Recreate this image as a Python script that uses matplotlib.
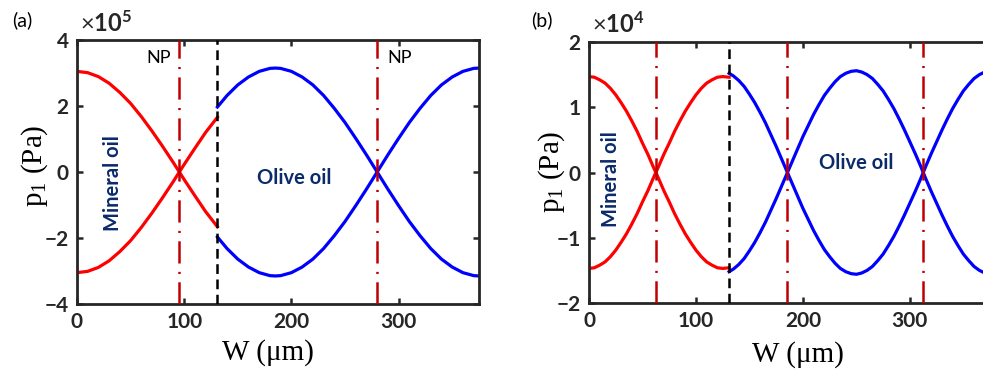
import matplotlib
matplotlib.use('Agg')
import matplotlib.pyplot as plt

plt.rcParams['font.family'] = ['Lato', 'DejaVu Sans']
plt.rcParams['mathtext.fontset'] = 'custom'
plt.rcParams['mathtext.rm'] = 'Lato'
plt.rcParams['mathtext.bf'] = 'Lato:bold'
plt.rcParams['lines.scale_dashes'] = False

# panel (a): values in units of 1e5 Pa
wa_red = [0, 10, 20, 30, 40, 50, 60, 70, 80, 90, 100, 110, 120, 131]
pa_red = [3.05, 3.01, 2.89, 2.69, 2.41, 2.08, 1.68, 1.24, 0.77, 0.28, -0.23, -0.72, -1.20, -1.66]
wa_blue = [131, 140, 150, 160, 170, 180, 185, 190, 200, 210, 220, 230, 240, 250, 260, 270, 280,
           290, 300, 310, 320, 330, 340, 350, 360, 370, 375]
pa_blue = [1.97, 2.32, 2.64, 2.88, 3.05, 3.14, 3.15, 3.14, 3.05, 2.88, 2.64, 2.32, 1.93, 1.50, 1.02, 0.52, 0.00,
           -0.52, -1.02, -1.50, -1.93, -2.32, -2.64, -2.88, -3.05, -3.14, -3.15]
a_np = [95.5, 280]
a_iface = 131

# panel (b): values in units of 1e4 Pa
wb_red = [0, 5, 10, 15, 20, 25, 30, 35, 40, 45, 50, 55, 60, 65, 70, 75, 80, 85, 90, 95,
          100, 105, 110, 115, 120, 125, 131]
pb_red = [1.47, 1.46, 1.42, 1.37, 1.29, 1.19, 1.07, 0.94, 0.79, 0.63, 0.45, 0.28, 0.09, -0.09, -0.28, -0.45,
          -0.63, -0.79, -0.94, -1.07, -1.19, -1.29, -1.37, -1.42, -1.46, -1.47, -1.46]
wb_blue = [131, 135, 140, 145, 150, 155, 160, 165, 170, 175, 180, 185, 190, 195, 200, 205, 210, 215, 220,
           225, 230, 235, 240, 245, 250, 255, 260, 265, 270, 275, 280, 285, 290, 295, 300, 305, 310,
           315, 320, 325, 330, 335, 340, 345, 350, 355, 360, 365, 370, 375]
pb_blue = [1.52, 1.48, 1.41, 1.32, 1.20, 1.07, 0.92, 0.76, 0.58, 0.40, 0.21, 0.02, -0.17, -0.36, -0.55, -0.72,
           -0.89, -1.04, -1.18, -1.29, -1.39, -1.47, -1.52, -1.55, -1.56, -1.54, -1.50, -1.44, -1.35, -1.25,
           -1.12, -0.98, -0.82, -0.65, -0.47, -0.29, -0.10, 0.10, 0.29, 0.47, 0.65, 0.82, 0.98, 1.12, 1.25,
           1.35, 1.44, 1.50, 1.54, 1.56]
b_np = [62.5, 185, 312]
b_iface = 131

navy = '#0b2a6b'
dred = '#c00000'
spine = '#262626'

fig = plt.figure(figsize=(9.83, 3.75), dpi=100)
ax1 = fig.add_axes([0.0783, 0.1893, 0.409, 0.704])
ax2 = fig.add_axes([0.5992, 0.192, 0.408, 0.696])


def style(ax, ylim, yticks):
    ax.set_xlim(0, 375)
    ax.set_ylim(*ylim)
    ax.set_xticks([0, 100, 200, 300])
    ax.set_yticks(yticks)
    ax.tick_params(direction='in', length=4, width=1.8, color=spine, labelsize=15,
                   top=True, right=True, pad=6, labelcolor=spine)
    for lab in ax.get_xticklabels() + ax.get_yticklabels():
        lab.set_fontweight('bold')
    for s in ax.spines.values():
        s.set_linewidth(2)
        s.set_color(spine)


def curves(ax, w, p, color):
    ax.plot(w, p, color=color, lw=2.3, zorder=2)
    ax.plot(w, [-v for v in p], color=color, lw=2.3, zorder=2)


# (a)
curves(ax1, wa_red, pa_red, 'red')
curves(ax1, wa_blue, pa_blue, 'blue')
for x in a_np:
    ax1.axvline(x, color=dred, lw=1.8, dashes=(16, 6, 1.5, 6), zorder=3)
ax1.axvline(a_iface, color='black', lw=1.8, dashes=(7, 4), zorder=3)
style(ax1, (-4, 4), [-4, -2, 0, 2, 4])
ax1.text(76.6, 3.45, 'NP', ha='center', va='center', fontsize=13)
ax1.text(301, 3.45, 'NP', ha='center', va='center', fontsize=13)
ax1.text(34, -0.33, 'Mineral oil', rotation=90, ha='center', va='center',
         fontsize=14.5, fontweight='bold', color=navy)
ax1.text(203, -0.18, 'Olive oil', ha='center', va='center',
         fontsize=14.5, fontweight='bold', color=navy)

# (b)
curves(ax2, wb_red, pb_red, 'red')
curves(ax2, wb_blue, pb_blue, 'blue')
for x in b_np:
    ax2.axvline(x, color=dred, lw=1.8, dashes=(16, 6, 1.5, 6), zorder=3)
ax2.axvline(b_iface, color='black', lw=1.8, dashes=(7, 4), zorder=3)
style(ax2, (-2, 2), [-2, -1, 0, 1, 2])
ax2.text(20.6, -0.10, 'Mineral oil', rotation=90, ha='center', va='center',
         fontsize=14.5, fontweight='bold', color=navy)
ax2.text(249.5, 0.15, 'Olive oil', ha='center', va='center',
         fontsize=14.5, fontweight='bold', color=navy)

# labels
serif = ['Liberation Serif', 'DejaVu Serif']
fig.text(35 / 983, 1 - 166 / 375, r'p$_\mathregular{1}$ (Pa)', rotation=90, ha='center', va='center',
         fontsize=21, family=serif)
fig.text(552 / 983, 1 - 172 / 375, r'p$_\mathregular{1}$ (Pa)', rotation=90, ha='center', va='center',
         fontsize=21, family=serif)
fig.text(268 / 983, 1 - 353 / 375, 'W (μm)', ha='center', va='center', fontsize=21, family=serif)
fig.text(798 / 983, 1 - 355 / 375, 'W (μm)', ha='center', va='center', fontsize=21, family=serif)

fig.text(80 / 983, 0.915, r'$\times\mathbf{10^{5}}$', ha='left', va='baseline', fontsize=17, color=spine)
fig.text(592 / 983, 0.912, r'$\times\mathbf{10^{4}}$', ha='left', va='baseline', fontsize=17, color=spine)
fig.text(22 / 983, 1 - 20 / 375, '(a)', ha='center', va='center', fontsize=14)
fig.text(542 / 983, 1 - 20 / 375, '(b)', ha='center', va='center', fontsize=14)

fig.savefig('out.png', dpi=100)
